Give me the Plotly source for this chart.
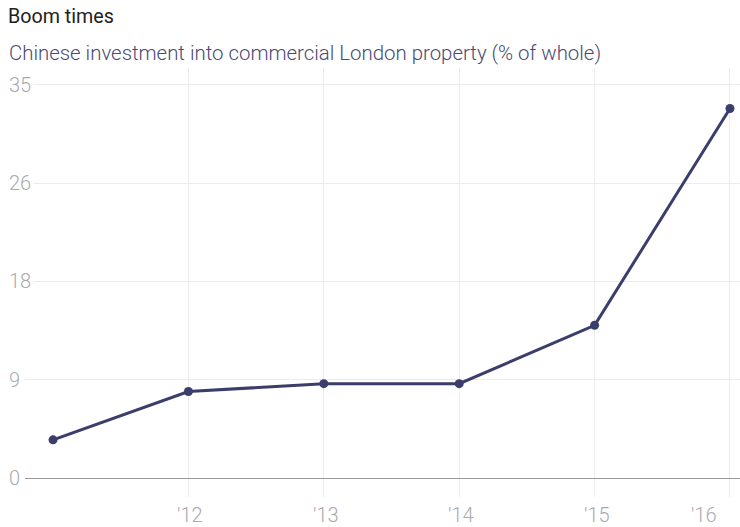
import plotly.graph_objects as go

years = [2011, 2012, 2013, 2014, 2015, 2016]
share = [3.4, 7.7, 8.4, 8.4, 13.6, 32.9]

y_tick_vals = [0, 8.75, 17.5, 26.25, 35]
y_tick_text = ["0", "9", "18", "26", "35"]
x_tick_vals = [2012, 2013, 2014, 2015, 2016]
x_tick_text = ["'12", "'13", "'14", "'15", "'16"]

title = "Boom times"
subtitle = "Chinese investment into commercial London property (% of whole)"

W, H = 740, 527
ML, MR, MT, MB = 25, 0, 68, 30
PW, PH = W - ML - MR, H - MT - MB

FONT = "Roboto"
LINE = "#3b3d6b"
TICK = "#aaa9ad"

def px_x(px):
    return (px - ML) / PW

def px_y(py):
    return (H - MB - py) / PH

fig = go.Figure()
fig.add_trace(go.Scatter(
    x=years, y=share, mode="lines+markers",
    line=dict(color=LINE, width=3),
    marker=dict(color=LINE, size=9),
    hoverinfo="skip", showlegend=False,
))

ann = []
ann.append(dict(text=title, x=px_x(6), y=px_y(16), xref="paper", yref="paper",
                xanchor="left", yanchor="middle", showarrow=False,
                font=dict(family=FONT, size=19.7, color="#222222")))
ann.append(dict(text=subtitle, x=px_x(7), y=px_y(53), xref="paper", yref="paper",
                xanchor="left", yanchor="middle", showarrow=False,
                font=dict(family=FONT, size=20.4, color="#4b4a72", weight=300)))
for v, t in zip(y_tick_vals, y_tick_text):
    ann.append(dict(text=t, x=px_x(6), y=v, xref="paper", yref="y",
                    xanchor="left", yanchor="middle", showarrow=False,
                    bgcolor="white", borderpad=2,
                    font=dict(family=FONT, size=20, color=TICK, weight=300)))
for i, (v, t) in enumerate(zip(x_tick_vals, x_tick_text)):
    last = i == len(x_tick_vals) - 1
    ann.append(dict(text=t, x=v, y=px_y(515), xref="x", yref="paper",
                    xanchor="right" if last else "center", yanchor="middle",
                    xshift=-11 if last else 2, showarrow=False,
                    font=dict(family=FONT, size=20, color=TICK, weight=300)))

fig.update_layout(
    width=W, height=H,
    margin=dict(l=ML, r=MR, t=MT, b=MB),
    paper_bgcolor="white", plot_bgcolor="white",
    annotations=ann,
    xaxis=dict(range=[2010.793, 2016.074], tickvals=x_tick_vals, showticklabels=False,
               showgrid=True, gridcolor="#ececec", gridwidth=1, zeroline=False,
               showline=False, ticks="", fixedrange=True),
    yaxis=dict(range=[-1.69, 36.51], tickvals=y_tick_vals, showticklabels=False,
               showgrid=True, gridcolor="#ececec", gridwidth=1,
               zeroline=True, zerolinecolor="#999999", zerolinewidth=1,
               showline=False, ticks="", fixedrange=True),
)

fig.write_html("out.html")
